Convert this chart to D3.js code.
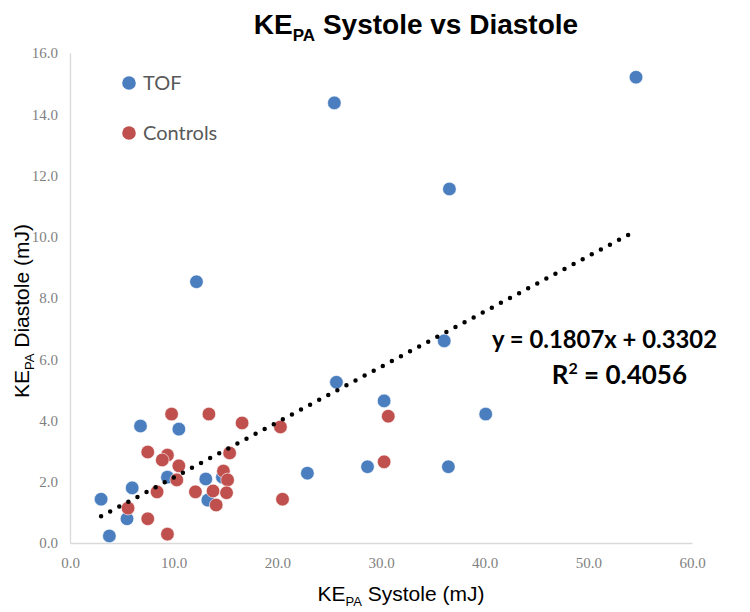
<!DOCTYPE html>
<html><head><meta charset="utf-8">
<script src="https://cdn.jsdelivr.net/npm/d3@7"></script>
<style>body{margin:0;background:#fff}</style>
</head><body>
<script>
// ---- data ----
const tofX = [54.6,25.5,36.6,12.2,36.1,25.7,30.3,40.1,22.9,28.7,36.5,3.0,3.8,5.5,6.0,6.8,10.5,9.4,13.1,13.3,14.7];
const tofY = [15.21,14.37,11.56,8.53,6.60,5.25,4.64,4.21,2.28,2.49,2.49,1.43,0.23,0.79,1.80,3.82,3.72,2.15,2.09,1.40,2.15];
const ctrlX = [9.8,13.4,16.6,20.3,7.5,9.4,8.9,10.5,10.3,15.4,14.8,15.2,8.4,12.1,13.8,15.1,14.1,20.5,5.6,7.5,9.4,30.7,30.3];
const ctrlY = [4.21,4.21,3.92,3.79,2.97,2.87,2.71,2.52,2.06,2.94,2.35,2.06,1.67,1.67,1.70,1.64,1.24,1.43,1.14,0.79,0.29,4.14,2.65];
const xTicks = [0,10,20,30,40,50,60];
const yTicks = [0,2,4,6,8,10,12,14,16];
const seriesNames = ["TOF","Controls"];
const slope = 0.1807, intercept = 0.3302, r2 = 0.4056;

const W = 750, H = 612;
const svg = d3.select("body").append("svg").attr("width",W).attr("height",H);
const x = d3.scaleLinear().domain([0,60]).range([70,692]);
const y = d3.scaleLinear().domain([0,16]).range([543,53]);
const colors = ["#4a7ebf","#c0504d"];

// axes
const xAxis = svg.append("g").attr("transform",`translate(0,${y(0)})`)
  .call(d3.axisBottom(x).tickValues(xTicks).tickSize(0).tickPadding(14).tickFormat(d3.format(".1f")));
const yAxis = svg.append("g").attr("transform",`translate(${x(0)},0)`)
  .call(d3.axisLeft(y).tickValues(yTicks).tickSize(0).tickPadding(12).tickFormat(d3.format(".1f")));
[xAxis,yAxis].forEach(g=>{
  g.select(".domain").attr("stroke","#d9d9d9").attr("stroke-width",1.3);
  g.selectAll("text").attr("fill","#7f7f7f").style("font-family","'Liberation Serif',serif").style("font-size","15px");
});

// points
const tof = tofX.map((v,i)=>({x:v,y:tofY[i]}));
const ctrl = ctrlX.map((v,i)=>({x:v,y:ctrlY[i]}));
[tof,ctrl].forEach((s,k)=>{
  svg.append("g").selectAll("circle").data(s).join("circle")
    .attr("cx",d=>x(d.x)).attr("cy",d=>y(d.y)).attr("r",6.8)
    .attr("fill",colors[k]).attr("stroke","#fff").attr("stroke-width",0.6);
});

// trendline over TOF x-range
const ext = d3.extent(tofX);
const line = d3.line().x(d=>x(d)).y(d=>y(slope*d+intercept));
svg.append("path").attr("d",line(ext)).attr("fill","none").attr("stroke","#000")
  .attr("stroke-width",4.5).attr("stroke-linecap","round").attr("stroke-dasharray","0 10.3");

// legend
seriesNames.forEach((n,i)=>{
  const cy = 83 + i*50;
  svg.append("circle").attr("cx",129).attr("cy",cy).attr("r",6.8).attr("fill",colors[i]);
  svg.append("text").attr("x",143).attr("y",cy+7).text(n)
    .attr("fill","#595959").style("font-family","Lato,sans-serif").style("font-size","20px");
});

// title
const t = svg.append("text").attr("x",416).attr("y",34).attr("text-anchor","middle")
  .style("font-family","'Liberation Sans',Arial,sans-serif").style("font-weight","bold").style("font-size","28px").attr("fill","#000");
t.append("tspan").text("KE");
t.append("tspan").text("PA").attr("dy",7).style("font-size","17px");
t.append("tspan").text(" Systole vs Diastole").attr("dy",-7);

// x title
const xt = svg.append("text").attr("x",401).attr("y",601).attr("text-anchor","middle")
  .style("font-family","'Liberation Sans',Arial,sans-serif").style("font-size","21px").attr("fill","#000");
xt.append("tspan").text("KE");
xt.append("tspan").text("PA").attr("dy",5).style("font-size","13px");
xt.append("tspan").text(" Systole (mJ)").attr("dy",-5);

// y title
const yt = svg.append("text").attr("transform","translate(29,311) rotate(-90)").attr("text-anchor","middle")
  .style("font-family","'Liberation Sans',Arial,sans-serif").style("font-size","21px").attr("fill","#000");
yt.append("tspan").text("KE");
yt.append("tspan").text("PA").attr("dy",5).style("font-size","13px");
yt.append("tspan").text(" Diastole (mJ)").attr("dy",-5);

// equation
svg.append("text").attr("x",717).attr("y",348).attr("text-anchor","end")
  .attr("textLength",225).attr("lengthAdjust","spacingAndGlyphs")
  .style("font-family","Lato,sans-serif").style("font-weight","bold").style("font-size","25px")
  .text(`y = ${slope}x + ${intercept}`);
const rt = svg.append("text").attr("x",687).attr("y",384).attr("text-anchor","end")
  .style("font-family","Lato,sans-serif").style("font-weight","bold").style("font-size","26px");
rt.append("tspan").text("R");
rt.append("tspan").text("2").attr("dy",-10).style("font-size","16px");
rt.append("tspan").text(` = ${r2}`).attr("dy",10);
</script>
</body></html>
